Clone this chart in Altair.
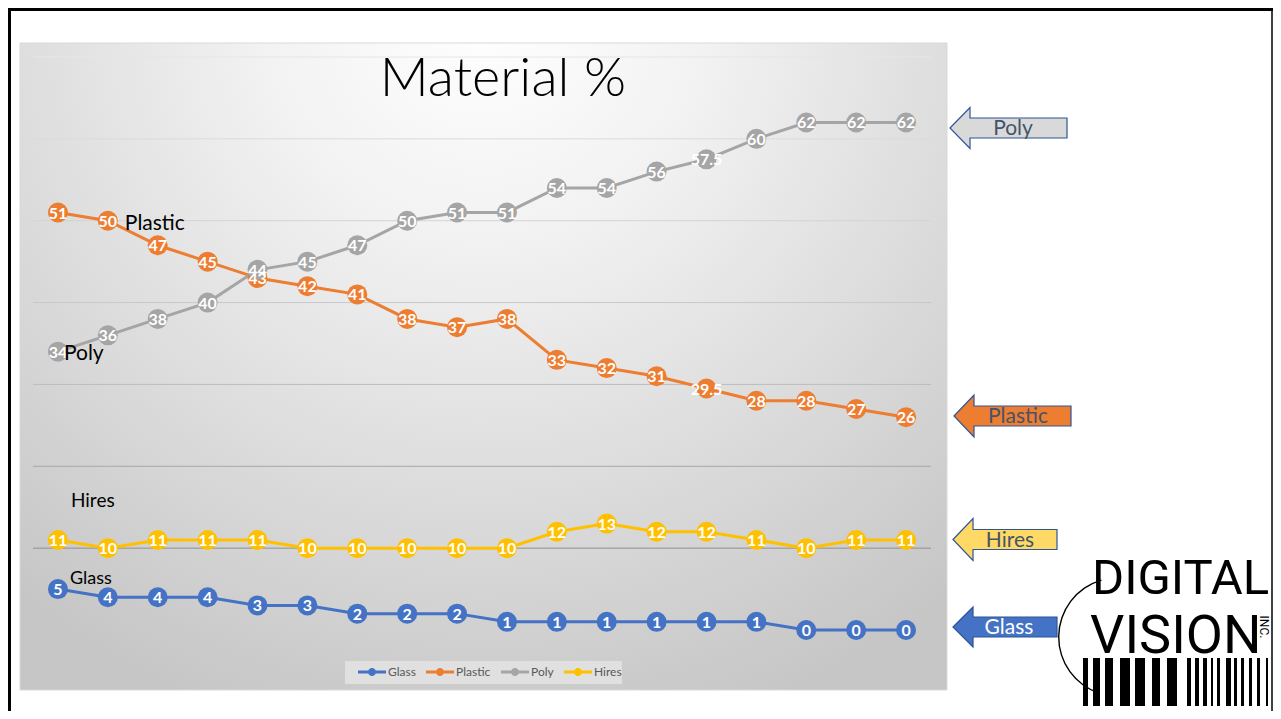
import altair as alt
import pandas as pd

# ---------------- data ----------------
years = list(range(2005, 2023))
glass = [5, 4, 4, 4, 3, 3, 2, 2, 2, 1, 1, 1, 1, 1, 1, 0, 0, 0]
plastic = [51, 50, 47, 45, 43, 42, 41, 38, 37, 38, 33, 32, 31, 29.5, 28, 28, 27, 26]
poly = [34, 36, 38, 40, 44, 45, 47, 50, 51, 51, 54, 54, 56, 57.5, 60, 62, 62, 62]
hires = [11, 10, 11, 11, 11, 10, 10, 10, 10, 10, 12, 13, 12, 12, 11, 10, 11, 11]
series_names = ["Glass", "Plastic", "Poly", "Hires"]
series_colors = ["#4472C4", "#ED7D31", "#A5A5A5", "#FFC000"]
grid_values = [10, 20, 30, 40, 50, 60, 70]
grid_shades = ["#8f8f8f", "#a8a8a8", "#bdbdbd", "#c8c8c8", "#d3d3d3", "#dadada", "#e6e6e6"]
title_text = "Material %"

rows = []
for name, vals in zip(series_names, [glass, plastic, poly, hires]):
    for y, v in zip(years, vals):
        rows.append({"year": y, "series": name, "value": v, "label": f"{v:g}"})
df = pd.DataFrame(rows)
grid_df = pd.DataFrame({"gv": grid_values, "shade": grid_shades})

# series annotations anchored to a data point
annot_df = pd.DataFrame([
    {"year": 2006, "value": 50, "txt": "Plastic"},
    {"year": 2005, "value": 34, "txt": "Poly"},
    {"year": 2005, "value": 11, "txt": "Hires"},
    {"year": 2005, "value": 5, "txt": "Glass"},
])

W, H = 898, 573
OX, OY = 33, 57  # window position of plot origin
FONT = "Lato"

one = alt.Data(values=[{"k": 0}])

def px(x):
    return x - OX

def py(y):
    return y - OY

# legend symbol: a line segment with a dot (unit box = 18 px, drawn 28 px wide)
legend_path = ("M-1,-0.17L2.11,-0.17L2.11,0.17L-1,0.17Z "
               "M0.105,0A0.45,0.45,0,1,1,1.005,0A0.45,0.45,0,1,1,0.105,0Z")
legend = alt.Legend(title=None, orient="none",
                    legendX=px(358), legendY=py(663),
                    direction="horizontal",
                    symbolType=legend_path, symbolSize=324,
                    symbolStrokeWidth=0, padding=0,
                    labelFont=FONT, labelFontSize=12,
                    labelColor="#595959", labelOffset=12,
                    columnPadding=10)
color_scale = alt.Scale(domain=series_names, range=series_colors)
color_enc = alt.Color("series:N", scale=color_scale, sort=series_names, legend=legend)

x_enc = alt.X("year:O", scale=alt.Scale(type="point", padding=0.5),
              axis=alt.Axis(title=None, labelAngle=0, ticks=False, grid=False,
                            domainColor="#404040", domainWidth=2,
                            labelColor="#595959", labelFont=FONT, labelFontSize=11,
                            labelPadding=9))
y_enc = alt.Y("value:Q", scale=alt.Scale(domain=[0, 70], nice=False), axis=None)

# ---------------- background ----------------
bg = alt.Chart(one).mark_rect(
    fill=alt.Gradient(gradient="radial",
                      stops=[alt.GradientStop(color="#ffffff", offset=0),
                             alt.GradientStop(color="#f2f2f2", offset=0.3),
                             alt.GradientStop(color="#c6c6c6", offset=1)],
                      x1=0.5, y1=0.12, r1=0, x2=0.5, y2=0.12, r2=0.8),
    stroke="#d9d9d9", strokeWidth=1
).encode(x=alt.value(px(20)), x2=alt.value(px(947)),
         y=alt.value(py(43)), y2=alt.value(py(690)))

legend_box = alt.Chart(one).mark_rect(fill="#e0e0e0").encode(
    x=alt.value(px(345)), x2=alt.value(px(622)),
    y=alt.value(py(661)), y2=alt.value(py(684)))

grid = alt.Chart(grid_df).mark_rule(strokeWidth=1).encode(
    y=alt.Y("gv:Q", scale=alt.Scale(domain=[0, 70], nice=False), axis=None),
    x=alt.value(0), x2=alt.value(W),
    stroke=alt.Stroke("shade:N", scale=None, legend=None))

lines = alt.Chart(df).mark_line(strokeWidth=3).encode(
    x=x_enc, y=y_enc, color=color_enc, detail="series:N")

points = alt.Chart(df).mark_point(filled=True, size=400, opacity=1).encode(
    x=x_enc, y=y_enc, color=color_enc)

labels = alt.Chart(df).mark_text(color="white", fontWeight="bold", font=FONT,
                                 fontSize=16, baseline="middle", dy=1).encode(
    x=x_enc, y=y_enc, text="label:N")

def annot(name, size, dx, dy):
    return alt.Chart(annot_df).transform_filter(f"datum.txt == '{name}'").mark_text(
        align="left", baseline="middle", font=FONT, fontSize=size, color="black",
        dx=dx, dy=dy).encode(x=x_enc, y=y_enc, text="txt:N")

anns = [annot("Plastic", 21, 17, 3), annot("Poly", 21, 6, 2),
        annot("Hires", 19, 13, -39), annot("Glass", 18, 12, -10)]

title = alt.Chart(one).mark_text(font=FONT, fontWeight=300, fontSize=54,
                                 color="black", align="center",
                                 baseline="alphabetic").encode(
    x=alt.value(px(503)), y=alt.value(py(96)), text=alt.value(title_text))

# ---------------- arrows on the right ----------------
def arrow_path(left, right, cy, head_top, body_top, neck):
    u = (right - left) / 2.0
    hh = (cy - head_top) / u
    hb = (cy - body_top) / u
    n = -1 + (neck - left) / u
    return (f"M-1,0L{n:.3f},{-hh:.3f}L{n:.3f},{-hb:.3f}L1,{-hb:.3f}"
            f"L1,{hb:.3f}L{n:.3f},{hb:.3f}L{n:.3f},{hh:.3f}Z")

arrow_specs = [
    # left, right, cy, head_top, body_top, neck, fill, text, text color, text x
    (950, 1067, 128, 107.5, 118, 970, "#d9d9d9", "Poly", "#44546a", 1013),
    (954, 1071, 416, 395, 406, 974, "#ed7d31", "Plastic", "#44546a", 1018),
    (953, 1057, 539.5, 518.5, 529.5, 973, "#ffd966", "Hires", "#44546a", 1010),
    (953, 1057, 627, 607, 617, 973, "#4472c4", "Glass", "#ffffff", 1009),
]
arrow_layers = []
for left, right, cy, ht, bt, neck, fill, txt, tcol, tx in arrow_specs:
    w = right - left
    arrow_layers.append(
        alt.Chart(one).mark_point(shape=arrow_path(left, right, cy, ht, bt, neck),
                                  size=w * w, filled=True, fill=fill, opacity=1,
                                  stroke="#2f5597", strokeWidth=1.2)
        .encode(x=alt.value(px((left + right) / 2)), y=alt.value(py(cy))))
    arrow_layers.append(
        alt.Chart(one).mark_text(font=FONT, fontSize=21, color=tcol,
                                 align="center", baseline="middle")
        .encode(x=alt.value(px(tx)), y=alt.value(py(cy + 1)), text=alt.value(txt)))

# ---------------- slide border ----------------
border = [
    alt.Chart(one).mark_rule(color="black", strokeWidth=3).encode(
        x=alt.value(px(9.5)), y=alt.value(py(8)), y2=alt.value(py(720))),
    alt.Chart(one).mark_rule(color="black", strokeWidth=3).encode(
        x=alt.value(px(8)), x2=alt.value(px(1273)), y=alt.value(py(9.5))),
    alt.Chart(one).mark_rule(color="black", strokeWidth=1.5).encode(
        x=alt.value(px(1272)), y=alt.value(py(8)), y2=alt.value(py(720))),
]

# ---------------- logo ----------------
LOGO_FONT = "Roboto"
logo = [
    alt.Chart(one).mark_arc(radius=60, radius2=58.6, theta=3.45, theta2=6.0,
                            color="black").encode(
        x=alt.value(px(1118)), y=alt.value(py(637))),
    alt.Chart(one).mark_text(font=LOGO_FONT, fontSize=49, color="black",
                             align="left", baseline="alphabetic").encode(
        x=alt.value(px(1092)), y=alt.value(py(594)), text=alt.value("DIGITAL")),
    alt.Chart(one).mark_text(font=LOGO_FONT, fontSize=54, color="black",
                             align="left", baseline="alphabetic").encode(
        x=alt.value(px(1090)), y=alt.value(py(653)), text=alt.value("VISION")),
    alt.Chart(one).mark_text(font=LOGO_FONT, fontSize=12, color="black", angle=90,
                             align="center", baseline="middle").encode(
        x=alt.value(px(1264)), y=alt.value(py(627)), text=alt.value("INC.")),
]
bar_left = [1083, 1093, 1105, 1120, 1135, 1152, 1167, 1187, 1195, 1203, 1211, 1217,
            1226, 1234, 1241, 1249, 1257, 1266, 1275]
bar_right = [1088, 1100, 1113, 1130, 1145, 1160, 1177, 1191, 1199, 1207, 1213, 1220,
             1231, 1237, 1244, 1252, 1260, 1268, 1280]
for l, r in zip(bar_left, bar_right):
    logo.append(alt.Chart(one).mark_rect(color="black").encode(
        x=alt.value(px(l)), x2=alt.value(px(r)),
        y=alt.value(py(658)), y2=alt.value(py(706))))

chart = alt.layer(
    bg, legend_box, grid, lines, points, labels, *anns, title,
    *arrow_layers, *border, *logo
).properties(
    width=W, height=H,
    autosize=alt.AutoSizeParams(type="none"),
    padding={"left": OX - 8, "top": OY - 8, "right": 1265 - (OX - 8) - W,
             "bottom": 703 - (OY - 8) - H},
    background="white"
).configure_view(stroke=None)

chart.save("out.html", embed_options={"renderer": "svg", "actions": False})
